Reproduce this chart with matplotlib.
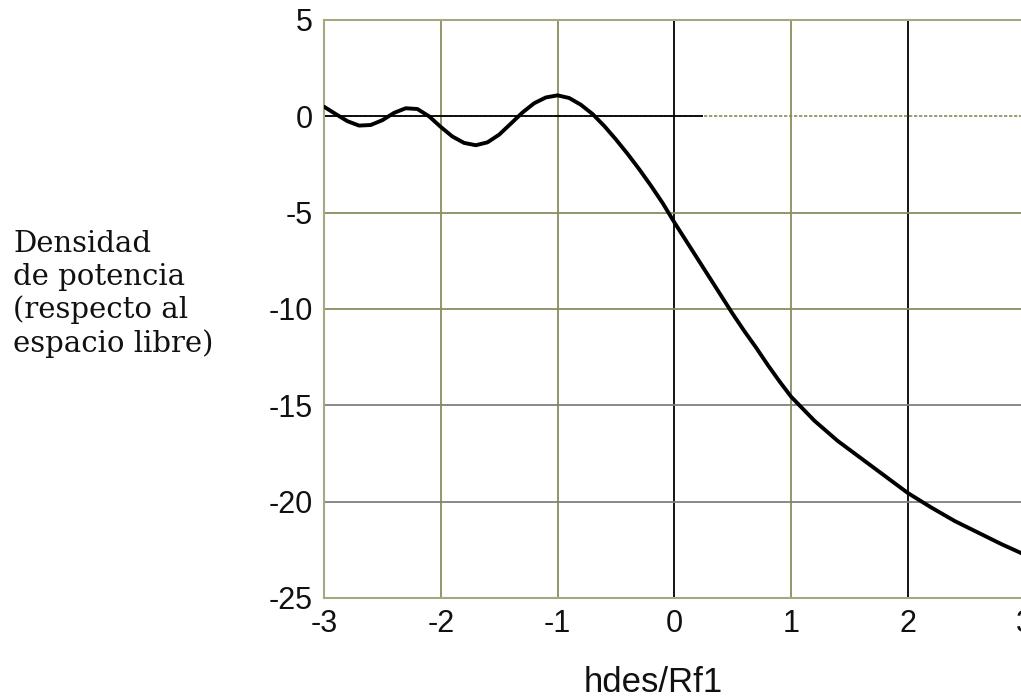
import matplotlib
matplotlib.use("Agg")
import matplotlib.pyplot as plt

plt.rcParams["axes.unicode_minus"] = False

# Data
x_vals = [-3.0, -2.9, -2.8, -2.7, -2.6, -2.5, -2.4, -2.3, -2.2, -2.1,
          -2.0, -1.9, -1.8, -1.7, -1.6, -1.5, -1.4, -1.3, -1.2, -1.1,
          -1.0, -0.9, -0.8, -0.7, -0.6, -0.5, -0.4, -0.3, -0.2, -0.1,
          0.0, 0.1, 0.2, 0.3, 0.4, 0.5, 0.6, 0.7, 0.8, 0.9,
          1.0, 1.2, 1.4, 1.6, 1.8, 2.0, 2.2, 2.4, 2.6, 2.8, 3.0]
y_vals = [0.5, 0.12, -0.25, -0.48, -0.45, -0.2, 0.18, 0.42, 0.38, 0.0,
          -0.55, -1.05, -1.38, -1.5, -1.35, -0.95, -0.38, 0.2, 0.68, 0.98,
          1.09, 0.95, 0.6, 0.12, -0.5, -1.2, -1.95, -2.75, -3.6, -4.5,
          -5.5, -6.45, -7.4, -8.35, -9.3, -10.25, -11.15, -12.0, -12.9, -13.75,
          -14.55, -15.8, -16.85, -17.75, -18.65, -19.55, -20.3, -21.0, -21.6, -22.2, -22.75]

x_ticks = [-3, -2, -1, 0, 1, 2, 3]
y_ticks = [5, 0, -5, -10, -15, -20, -25]
x_label = "hdes/Rf1"
y_label = "Densidad\nde potencia\n(respecto al\nespacio libre)"

olive = "#8c8c5e"
frame = "#a8a880"
grey = "#808080"

fig = plt.figure(figsize=(10.21, 7.0), dpi=100)
ax = fig.add_axes([324 / 1021, 102 / 700, 700.6 / 1021, 578 / 700])

ax.set_xlim(-3, 3)
ax.set_ylim(-25, 5)
ax.set_xticks(x_ticks)
ax.set_yticks(y_ticks)

# grid lines with the reference's mixed colours
vcolors = {-2: olive, -1: olive, 0: "black", 1: olive, 2: "black"}
for xv, c in vcolors.items():
    ax.axvline(xv, color=c, lw=1.3, zorder=1)
hcolors = {-5: olive, -10: olive, -15: grey, -20: grey}
for yv, c in hcolors.items():
    ax.axhline(yv, color=c, lw=1.3, zorder=1)
ax.axhline(0, color=olive, lw=1.2, ls=(0, (2, 1)), zorder=1)
ax.hlines(0, -3, 0.25, color="black", lw=1.3, zorder=1.5)

ax.plot(x_vals, y_vals, color="black", lw=2.8, zorder=3,
        solid_capstyle="round", solid_joinstyle="round")

for s in ax.spines.values():
    s.set_color(frame)
    s.set_linewidth(1.5)

ax.tick_params(length=0, labelsize=22, colors="#111111", pad=8)
for lab in ax.get_xticklabels() + ax.get_yticklabels():
    lab.set_family(["Liberation Sans", "DejaVu Sans"])

fig.text(653 / 1021, 1 - 682 / 700, x_label, ha="center", va="center",
         fontsize=25, family=["Liberation Sans", "DejaVu Sans"], color="#111111")
fig.text(13 / 1021, 1 - 294 / 700, y_label, ha="left", va="center",
         fontsize=21, family=["DejaVu Serif"],
         linespacing=1.2, color="#111111")

fig.savefig("out.png", dpi=100, facecolor="white")
